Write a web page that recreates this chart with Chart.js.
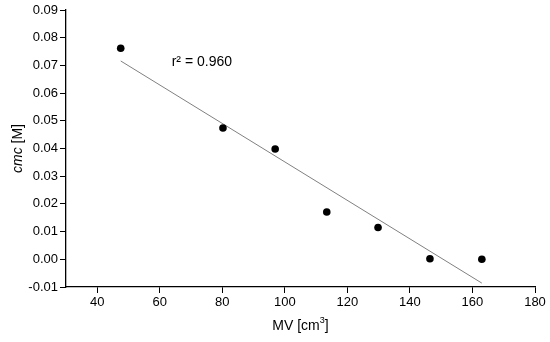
<!DOCTYPE html>
<html>
<head>
<meta charset="utf-8">
<script src="https://cdn.jsdelivr.net/npm/chart.js@4/dist/chart.umd.min.js"></script>
<style>
  html, body { margin: 0; padding: 0; background: #fff; }
  #wrap { width: 550px; height: 342px; }
</style>
</head>
<body>
<div id="wrap"><canvas id="chart" width="550" height="342"></canvas></div>
<script>
// --- Datos ---
const mvValues = [47.5, 80.2, 96.9, 113.4, 129.8, 146.4, 163.0];
const cmcValues = [0.0762, 0.0474, 0.0398, 0.0171, 0.0115, 0.0002, 0.0000];
const fitX = [47.5, 163.0];
const fitY = [0.0716, -0.0086];
const xTicks = [40, 60, 80, 100, 120, 140, 160, 180];
const yTicks = [-0.01, 0.00, 0.01, 0.02, 0.03, 0.04, 0.05, 0.06, 0.07, 0.08, 0.09];
const r2Label = 'r² = 0.960';
const r2Pos = { x: 63.8, y: 0.0712 };

const FONT = '"Liberation Sans", Arial, sans-serif';

// Títulos de ejes y anotación dibujados a mano (cmc en cursiva)
const labelsPlugin = {
  id: 'labels',
  afterDraw(chart) {
    const ctx = chart.ctx;
    const xs = chart.scales.x, ys = chart.scales.y;
    ctx.save();
    ctx.fillStyle = '#000';
    ctx.textBaseline = 'middle';

    // anotación r²
    ctx.font = '14px ' + FONT;
    ctx.textAlign = 'left';
    ctx.fillText(r2Label, xs.getPixelForValue(r2Pos.x), ys.getPixelForValue(r2Pos.y));

    // título eje x: MV [cm3]
    const cx = (chart.chartArea.left + chart.chartArea.right) / 2;
    const ty = 326;
    const a = 'MV [cm', b = '3', c = ']';
    ctx.font = '14px ' + FONT;
    const wa = ctx.measureText(a).width;
    ctx.font = '9px ' + FONT;
    const wb = ctx.measureText(b).width;
    ctx.font = '14px ' + FONT;
    const wc = ctx.measureText(c).width;
    const x0 = cx - (wa + wb + wc) / 2;
    ctx.fillText(a, x0, ty);
    ctx.font = '9px ' + FONT;
    ctx.fillText(b, x0 + wa, ty - 5);
    ctx.font = '14px ' + FONT;
    ctx.fillText(c, x0 + wa + wb, ty);

    // título eje y: cmc [M]
    ctx.translate(18, (chart.chartArea.top + chart.chartArea.bottom) / 2);
    ctx.rotate(-Math.PI / 2);
    ctx.font = 'italic 14px ' + FONT;
    const p1 = 'cmc';
    const w1 = ctx.measureText(p1).width;
    ctx.font = '14px ' + FONT;
    const p2 = ' [M]';
    const w2 = ctx.measureText(p2).width;
    const sx = -(w1 + w2) / 2;
    ctx.font = 'italic 14px ' + FONT;
    ctx.fillText(p1, sx, 0);
    ctx.font = '14px ' + FONT;
    ctx.fillText(p2, sx + w1, 0);
    ctx.restore();
  }
};

new Chart(document.getElementById('chart'), {
  type: 'scatter',
  data: {
    datasets: [
      {
        label: 'cmc',
        data: mvValues.map((v, i) => ({ x: v, y: cmcValues[i] })),
        backgroundColor: '#000',
        borderColor: '#000',
        pointRadius: 3.8,
        borderWidth: 0,
        showLine: false
      },
      {
        label: 'ajuste',
        data: fitX.map((v, i) => ({ x: v, y: fitY[i] })),
        showLine: true,
        borderColor: '#808080',
        borderWidth: 1,
        pointRadius: 0
      }
    ]
  },
  options: {
    responsive: false,
    animation: false,
    layout: { padding: { top: 10, right: 15, left: 0, bottom: 0 } },
    plugins: { legend: { display: false }, tooltip: { enabled: false } },
    scales: {
      x: {
        type: 'linear',
        min: 30,
        max: 180,
        afterBuildTicks: (s) => { s.ticks = xTicks.map(v => ({ value: v })); },
        afterFit: (s) => { s.height = 55; },
        grid: { drawOnChartArea: false, drawTicks: true, tickLength: 6, color: '#000', lineWidth: 1 },
        border: { color: '#000', width: 1.3 },
        ticks: { color: '#000', font: { family: FONT, size: 13 }, padding: 2, maxRotation: 0 }
      },
      y: {
        type: 'linear',
        min: -0.01,
        max: 0.09,
        afterBuildTicks: (s) => { s.ticks = yTicks.map(v => ({ value: v })); },
        afterFit: (s) => { s.width = 66; },
        grid: { drawOnChartArea: false, drawTicks: true, tickLength: 6, color: '#000', lineWidth: 1 },
        border: { color: '#000', width: 1.3 },
        ticks: {
          color: '#000',
          font: { family: FONT, size: 13 },
          padding: 2,
          callback: (v) => v.toFixed(2)
        }
      }
    }
  },
  plugins: [labelsPlugin]
});
</script>
</body>
</html>
